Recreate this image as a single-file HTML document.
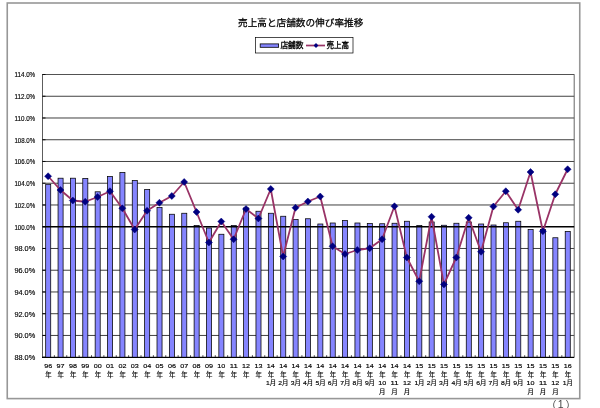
<!DOCTYPE html>
<html lang="ja"><head><meta charset="utf-8"><title>売上高と店舗数の伸び率推移</title>
<style>html,body{margin:0;padding:0;background:#fff}body{width:600px;height:408px;overflow:hidden;font-family:"Liberation Sans","Noto Sans CJK JP",sans-serif}svg{display:block}text{filter:grayscale(1);stroke:#000;stroke-width:.15px;font-family:"Liberation Sans","Noto Sans CJK JP",sans-serif;fill:#000}</style></head><body>
<svg width="600" height="408" viewBox="0 0 600 408" role="img" aria-label="売上高と店舗数の伸び率推移">
<rect width="600" height="408" fill="#fff"/>
<rect x="7.25" y="3" width="572.5" height="395.6" fill="#fff" stroke="#979797" stroke-width="1.6"/>
<text x="238" y="26.2" font-size="9.64" textLength="125.3" lengthAdjust="spacingAndGlyphs" style="stroke-width:.25px">売上高と店舗数の伸び率推移</text>
<line x1="42.00" x2="574.20" y1="74.50" y2="74.50" stroke="#000" stroke-width="0.75"/>
<line x1="42.00" x2="574.20" y1="96.25" y2="96.25" stroke="#000" stroke-width="0.75"/>
<line x1="42.00" x2="574.20" y1="117.99" y2="117.99" stroke="#000" stroke-width="0.75"/>
<line x1="42.00" x2="574.20" y1="139.74" y2="139.74" stroke="#000" stroke-width="0.75"/>
<line x1="42.00" x2="574.20" y1="161.48" y2="161.48" stroke="#000" stroke-width="0.75"/>
<line x1="42.00" x2="574.20" y1="183.23" y2="183.23" stroke="#000" stroke-width="0.75"/>
<line x1="42.00" x2="574.20" y1="204.98" y2="204.98" stroke="#000" stroke-width="0.75"/>
<line x1="42.00" x2="574.20" y1="248.47" y2="248.47" stroke="#000" stroke-width="0.75"/>
<line x1="42.00" x2="574.20" y1="270.22" y2="270.22" stroke="#000" stroke-width="0.75"/>
<line x1="42.00" x2="574.20" y1="291.96" y2="291.96" stroke="#000" stroke-width="0.75"/>
<line x1="42.00" x2="574.20" y1="313.71" y2="313.71" stroke="#000" stroke-width="0.75"/>
<line x1="42.00" x2="574.20" y1="335.45" y2="335.45" stroke="#000" stroke-width="0.75"/>
<line x1="42.00" x2="574.20" y1="357.20" y2="357.20" stroke="#000" stroke-width="0.75"/>
<path d="M42.00 74.50H574.20V357.20" fill="none" stroke="#555" stroke-width="0.9"/>
<rect x="45.68" y="184.30" width="5.05" height="172.90" fill="#8585ff" stroke="#000" stroke-width="0.75"/>
<rect x="58.05" y="178.20" width="5.05" height="179.00" fill="#8585ff" stroke="#000" stroke-width="0.75"/>
<rect x="70.41" y="178.20" width="5.05" height="179.00" fill="#8585ff" stroke="#000" stroke-width="0.75"/>
<rect x="82.78" y="178.40" width="5.05" height="178.80" fill="#8585ff" stroke="#000" stroke-width="0.75"/>
<rect x="95.15" y="191.80" width="5.05" height="165.40" fill="#8585ff" stroke="#000" stroke-width="0.75"/>
<rect x="107.52" y="176.50" width="5.05" height="180.70" fill="#8585ff" stroke="#000" stroke-width="0.75"/>
<rect x="119.89" y="172.50" width="5.05" height="184.70" fill="#8585ff" stroke="#000" stroke-width="0.75"/>
<rect x="132.26" y="180.50" width="5.05" height="176.70" fill="#8585ff" stroke="#000" stroke-width="0.75"/>
<rect x="144.63" y="189.50" width="5.05" height="167.70" fill="#8585ff" stroke="#000" stroke-width="0.75"/>
<rect x="157.00" y="207.50" width="5.05" height="149.70" fill="#8585ff" stroke="#000" stroke-width="0.75"/>
<rect x="169.37" y="214.25" width="5.05" height="142.95" fill="#8585ff" stroke="#000" stroke-width="0.75"/>
<rect x="181.74" y="213.25" width="5.05" height="143.95" fill="#8585ff" stroke="#000" stroke-width="0.75"/>
<rect x="194.11" y="225.50" width="5.05" height="131.70" fill="#8585ff" stroke="#000" stroke-width="0.75"/>
<rect x="206.48" y="228.00" width="5.05" height="129.20" fill="#8585ff" stroke="#000" stroke-width="0.75"/>
<rect x="218.85" y="234.25" width="5.05" height="122.95" fill="#8585ff" stroke="#000" stroke-width="0.75"/>
<rect x="231.22" y="225.50" width="5.05" height="131.70" fill="#8585ff" stroke="#000" stroke-width="0.75"/>
<rect x="243.59" y="208.00" width="5.05" height="149.20" fill="#8585ff" stroke="#000" stroke-width="0.75"/>
<rect x="255.96" y="211.25" width="5.05" height="145.95" fill="#8585ff" stroke="#000" stroke-width="0.75"/>
<rect x="268.34" y="213.25" width="5.05" height="143.95" fill="#8585ff" stroke="#000" stroke-width="0.75"/>
<rect x="280.71" y="216.25" width="5.05" height="140.95" fill="#8585ff" stroke="#000" stroke-width="0.75"/>
<rect x="293.08" y="219.50" width="5.05" height="137.70" fill="#8585ff" stroke="#000" stroke-width="0.75"/>
<rect x="305.45" y="218.75" width="5.05" height="138.45" fill="#8585ff" stroke="#000" stroke-width="0.75"/>
<rect x="317.82" y="224.00" width="5.05" height="133.20" fill="#8585ff" stroke="#000" stroke-width="0.75"/>
<rect x="330.19" y="223.00" width="5.05" height="134.20" fill="#8585ff" stroke="#000" stroke-width="0.75"/>
<rect x="342.56" y="220.50" width="5.05" height="136.70" fill="#8585ff" stroke="#000" stroke-width="0.75"/>
<rect x="354.93" y="223.00" width="5.05" height="134.20" fill="#8585ff" stroke="#000" stroke-width="0.75"/>
<rect x="367.30" y="223.50" width="5.05" height="133.70" fill="#8585ff" stroke="#000" stroke-width="0.75"/>
<rect x="379.67" y="223.75" width="5.05" height="133.45" fill="#8585ff" stroke="#000" stroke-width="0.75"/>
<rect x="392.04" y="223.25" width="5.05" height="133.95" fill="#8585ff" stroke="#000" stroke-width="0.75"/>
<rect x="404.41" y="221.25" width="5.05" height="135.95" fill="#8585ff" stroke="#000" stroke-width="0.75"/>
<rect x="416.78" y="225.50" width="5.05" height="131.70" fill="#8585ff" stroke="#000" stroke-width="0.75"/>
<rect x="429.15" y="222.00" width="5.05" height="135.20" fill="#8585ff" stroke="#000" stroke-width="0.75"/>
<rect x="441.52" y="225.25" width="5.05" height="131.95" fill="#8585ff" stroke="#000" stroke-width="0.75"/>
<rect x="453.89" y="223.25" width="5.05" height="133.95" fill="#8585ff" stroke="#000" stroke-width="0.75"/>
<rect x="466.26" y="222.00" width="5.05" height="135.20" fill="#8585ff" stroke="#000" stroke-width="0.75"/>
<rect x="478.63" y="224.00" width="5.05" height="133.20" fill="#8585ff" stroke="#000" stroke-width="0.75"/>
<rect x="491.00" y="225.00" width="5.05" height="132.20" fill="#8585ff" stroke="#000" stroke-width="0.75"/>
<rect x="503.37" y="222.75" width="5.05" height="134.45" fill="#8585ff" stroke="#000" stroke-width="0.75"/>
<rect x="515.74" y="221.25" width="5.05" height="135.95" fill="#8585ff" stroke="#000" stroke-width="0.75"/>
<rect x="528.11" y="229.50" width="5.05" height="127.70" fill="#8585ff" stroke="#000" stroke-width="0.75"/>
<rect x="540.48" y="229.50" width="5.05" height="127.70" fill="#8585ff" stroke="#000" stroke-width="0.75"/>
<rect x="552.85" y="237.75" width="5.05" height="119.45" fill="#8585ff" stroke="#000" stroke-width="0.75"/>
<rect x="565.22" y="231.50" width="5.05" height="125.70" fill="#8585ff" stroke="#000" stroke-width="0.75"/>
<line x1="42.00" x2="574.20" y1="226.72" y2="226.72" stroke="#000" stroke-width="1.4"/>
<line x1="42.5" x2="42.5" y1="74.50" y2="358.00" stroke="#333" stroke-width="0.8"/>
<line x1="42.00" x2="574.20" y1="357.5" y2="357.5" stroke="#000" stroke-width="1"/>
<path d="M42.5 74.50h3M42.5 96.25h3M42.5 117.99h3M42.5 139.74h3M42.5 161.48h3M42.5 183.23h3M42.5 204.98h3M42.5 226.72h3M42.5 248.47h3M42.5 270.22h3M42.5 291.96h3M42.5 313.71h3M42.5 335.45h3M42.5 357.20h3" stroke="#000" stroke-width="0.9" fill="none"/>
<path d="M54.38 357.20v-2M66.75 357.20v-2M79.13 357.20v-2M91.51 357.20v-2M103.88 357.20v-2M116.26 357.20v-2M128.64 357.20v-2M141.01 357.20v-2M153.39 357.20v-2M165.77 357.20v-2M178.14 357.20v-2M190.52 357.20v-2M202.90 357.20v-2M215.27 357.20v-2M227.65 357.20v-2M240.03 357.20v-2M252.40 357.20v-2M264.78 357.20v-2M277.16 357.20v-2M289.53 357.20v-2M301.91 357.20v-2M314.29 357.20v-2M326.67 357.20v-2M339.04 357.20v-2M351.42 357.20v-2M363.80 357.20v-2M376.17 357.20v-2M388.55 357.20v-2M400.93 357.20v-2M413.30 357.20v-2M425.68 357.20v-2M438.06 357.20v-2M450.43 357.20v-2M462.81 357.20v-2M475.19 357.20v-2M487.56 357.20v-2M499.94 357.20v-2M512.32 357.20v-2M524.69 357.20v-2M537.07 357.20v-2M549.45 357.20v-2M561.82 357.20v-2" stroke="#000" stroke-width="0.7" fill="none"/>
<polyline points="48.10,176.25 60.47,190.00 72.84,200.50 85.21,201.75 97.58,197.00 109.95,191.25 122.32,208.25 134.69,229.50 147.06,210.75 159.43,202.75 171.80,196.00 184.17,182.00 196.54,212.00 208.91,242.50 221.28,221.50 233.65,239.25 246.02,209.00 258.39,218.50 270.76,189.00 283.13,256.50 295.50,207.75 307.87,201.50 320.24,196.50 332.61,246.25 344.98,254.00 357.35,250.00 369.72,248.25 382.09,239.25 394.46,206.25 406.83,257.50 419.20,281.25 431.57,216.75 443.94,284.40 456.31,257.50 468.68,217.75 481.05,251.75 493.42,206.50 505.79,191.25 518.16,209.75 530.53,172.00 542.90,231.25 555.27,194.25 567.64,169.25" fill="none" stroke="#993366" stroke-width="1.8" stroke-linejoin="round"/>
<path d="M48.10 172.75l3.5 3.5l-3.5 3.5l-3.5 -3.5zM60.47 186.50l3.5 3.5l-3.5 3.5l-3.5 -3.5zM72.84 197.00l3.5 3.5l-3.5 3.5l-3.5 -3.5zM85.21 198.25l3.5 3.5l-3.5 3.5l-3.5 -3.5zM97.58 193.50l3.5 3.5l-3.5 3.5l-3.5 -3.5zM109.95 187.75l3.5 3.5l-3.5 3.5l-3.5 -3.5zM122.32 204.75l3.5 3.5l-3.5 3.5l-3.5 -3.5zM134.69 226.00l3.5 3.5l-3.5 3.5l-3.5 -3.5zM147.06 207.25l3.5 3.5l-3.5 3.5l-3.5 -3.5zM159.43 199.25l3.5 3.5l-3.5 3.5l-3.5 -3.5zM171.80 192.50l3.5 3.5l-3.5 3.5l-3.5 -3.5zM184.17 178.50l3.5 3.5l-3.5 3.5l-3.5 -3.5zM196.54 208.50l3.5 3.5l-3.5 3.5l-3.5 -3.5zM208.91 239.00l3.5 3.5l-3.5 3.5l-3.5 -3.5zM221.28 218.00l3.5 3.5l-3.5 3.5l-3.5 -3.5zM233.65 235.75l3.5 3.5l-3.5 3.5l-3.5 -3.5zM246.02 205.50l3.5 3.5l-3.5 3.5l-3.5 -3.5zM258.39 215.00l3.5 3.5l-3.5 3.5l-3.5 -3.5zM270.76 185.50l3.5 3.5l-3.5 3.5l-3.5 -3.5zM283.13 253.00l3.5 3.5l-3.5 3.5l-3.5 -3.5zM295.50 204.25l3.5 3.5l-3.5 3.5l-3.5 -3.5zM307.87 198.00l3.5 3.5l-3.5 3.5l-3.5 -3.5zM320.24 193.00l3.5 3.5l-3.5 3.5l-3.5 -3.5zM332.61 242.75l3.5 3.5l-3.5 3.5l-3.5 -3.5zM344.98 250.50l3.5 3.5l-3.5 3.5l-3.5 -3.5zM357.35 246.50l3.5 3.5l-3.5 3.5l-3.5 -3.5zM369.72 244.75l3.5 3.5l-3.5 3.5l-3.5 -3.5zM382.09 235.75l3.5 3.5l-3.5 3.5l-3.5 -3.5zM394.46 202.75l3.5 3.5l-3.5 3.5l-3.5 -3.5zM406.83 254.00l3.5 3.5l-3.5 3.5l-3.5 -3.5zM419.20 277.75l3.5 3.5l-3.5 3.5l-3.5 -3.5zM431.57 213.25l3.5 3.5l-3.5 3.5l-3.5 -3.5zM443.94 280.90l3.5 3.5l-3.5 3.5l-3.5 -3.5zM456.31 254.00l3.5 3.5l-3.5 3.5l-3.5 -3.5zM468.68 214.25l3.5 3.5l-3.5 3.5l-3.5 -3.5zM481.05 248.25l3.5 3.5l-3.5 3.5l-3.5 -3.5zM493.42 203.00l3.5 3.5l-3.5 3.5l-3.5 -3.5zM505.79 187.75l3.5 3.5l-3.5 3.5l-3.5 -3.5zM518.16 206.25l3.5 3.5l-3.5 3.5l-3.5 -3.5zM530.53 168.50l3.5 3.5l-3.5 3.5l-3.5 -3.5zM542.90 227.75l3.5 3.5l-3.5 3.5l-3.5 -3.5zM555.27 190.75l3.5 3.5l-3.5 3.5l-3.5 -3.5zM567.64 165.75l3.5 3.5l-3.5 3.5l-3.5 -3.5z" fill="#000080" stroke="#000080" stroke-width="0.5" stroke-linejoin="round"/>
<text x="35.2" y="77.30" font-size="6.9" text-anchor="end" textLength="20.8" lengthAdjust="spacingAndGlyphs">114.0%</text>
<text x="35.2" y="99.05" font-size="6.9" text-anchor="end" textLength="20.8" lengthAdjust="spacingAndGlyphs">112.0%</text>
<text x="35.2" y="120.79" font-size="6.9" text-anchor="end" textLength="20.8" lengthAdjust="spacingAndGlyphs">110.0%</text>
<text x="35.2" y="142.54" font-size="6.9" text-anchor="end" textLength="20.8" lengthAdjust="spacingAndGlyphs">108.0%</text>
<text x="35.2" y="164.28" font-size="6.9" text-anchor="end" textLength="20.8" lengthAdjust="spacingAndGlyphs">106.0%</text>
<text x="35.2" y="186.03" font-size="6.9" text-anchor="end" textLength="20.8" lengthAdjust="spacingAndGlyphs">104.0%</text>
<text x="35.2" y="207.78" font-size="6.9" text-anchor="end" textLength="20.8" lengthAdjust="spacingAndGlyphs">102.0%</text>
<text x="35.2" y="229.52" font-size="6.9" text-anchor="end" textLength="20.8" lengthAdjust="spacingAndGlyphs">100.0%</text>
<text x="35.2" y="251.27" font-size="6.9" text-anchor="end" textLength="20.8" lengthAdjust="spacingAndGlyphs">98.0%</text>
<text x="35.2" y="273.02" font-size="6.9" text-anchor="end" textLength="20.8" lengthAdjust="spacingAndGlyphs">96.0%</text>
<text x="35.2" y="294.76" font-size="6.9" text-anchor="end" textLength="20.8" lengthAdjust="spacingAndGlyphs">94.0%</text>
<text x="35.2" y="316.51" font-size="6.9" text-anchor="end" textLength="20.8" lengthAdjust="spacingAndGlyphs">92.0%</text>
<text x="35.2" y="338.25" font-size="6.9" text-anchor="end" textLength="20.8" lengthAdjust="spacingAndGlyphs">90.0%</text>
<text x="35.2" y="360.00" font-size="6.9" text-anchor="end" textLength="20.8" lengthAdjust="spacingAndGlyphs">88.0%</text>
<text x="48.20" y="368" font-size="6" text-anchor="middle" textLength="8" lengthAdjust="spacingAndGlyphs">96</text>
<text x="48.40" y="376.6" font-size="6.4" text-anchor="middle">年</text>
<text x="60.57" y="368" font-size="6" text-anchor="middle" textLength="8" lengthAdjust="spacingAndGlyphs">97</text>
<text x="60.77" y="376.6" font-size="6.4" text-anchor="middle">年</text>
<text x="72.94" y="368" font-size="6" text-anchor="middle" textLength="8" lengthAdjust="spacingAndGlyphs">98</text>
<text x="73.14" y="376.6" font-size="6.4" text-anchor="middle">年</text>
<text x="85.31" y="368" font-size="6" text-anchor="middle" textLength="8" lengthAdjust="spacingAndGlyphs">99</text>
<text x="85.51" y="376.6" font-size="6.4" text-anchor="middle">年</text>
<text x="97.68" y="368" font-size="6" text-anchor="middle" textLength="8" lengthAdjust="spacingAndGlyphs">00</text>
<text x="97.88" y="376.6" font-size="6.4" text-anchor="middle">年</text>
<text x="110.05" y="368" font-size="6" text-anchor="middle" textLength="8" lengthAdjust="spacingAndGlyphs">01</text>
<text x="110.25" y="376.6" font-size="6.4" text-anchor="middle">年</text>
<text x="122.42" y="368" font-size="6" text-anchor="middle" textLength="8" lengthAdjust="spacingAndGlyphs">02</text>
<text x="122.62" y="376.6" font-size="6.4" text-anchor="middle">年</text>
<text x="134.79" y="368" font-size="6" text-anchor="middle" textLength="8" lengthAdjust="spacingAndGlyphs">03</text>
<text x="134.99" y="376.6" font-size="6.4" text-anchor="middle">年</text>
<text x="147.16" y="368" font-size="6" text-anchor="middle" textLength="8" lengthAdjust="spacingAndGlyphs">04</text>
<text x="147.36" y="376.6" font-size="6.4" text-anchor="middle">年</text>
<text x="159.53" y="368" font-size="6" text-anchor="middle" textLength="8" lengthAdjust="spacingAndGlyphs">05</text>
<text x="159.73" y="376.6" font-size="6.4" text-anchor="middle">年</text>
<text x="171.90" y="368" font-size="6" text-anchor="middle" textLength="8" lengthAdjust="spacingAndGlyphs">06</text>
<text x="172.10" y="376.6" font-size="6.4" text-anchor="middle">年</text>
<text x="184.27" y="368" font-size="6" text-anchor="middle" textLength="8" lengthAdjust="spacingAndGlyphs">07</text>
<text x="184.47" y="376.6" font-size="6.4" text-anchor="middle">年</text>
<text x="196.64" y="368" font-size="6" text-anchor="middle" textLength="8" lengthAdjust="spacingAndGlyphs">08</text>
<text x="196.84" y="376.6" font-size="6.4" text-anchor="middle">年</text>
<text x="209.01" y="368" font-size="6" text-anchor="middle" textLength="8" lengthAdjust="spacingAndGlyphs">09</text>
<text x="209.21" y="376.6" font-size="6.4" text-anchor="middle">年</text>
<text x="221.38" y="368" font-size="6" text-anchor="middle" textLength="8" lengthAdjust="spacingAndGlyphs">10</text>
<text x="221.58" y="376.6" font-size="6.4" text-anchor="middle">年</text>
<text x="233.75" y="368" font-size="6" text-anchor="middle" textLength="8" lengthAdjust="spacingAndGlyphs">11</text>
<text x="233.95" y="376.6" font-size="6.4" text-anchor="middle">年</text>
<text x="246.12" y="368" font-size="6" text-anchor="middle" textLength="8" lengthAdjust="spacingAndGlyphs">12</text>
<text x="246.32" y="376.6" font-size="6.4" text-anchor="middle">年</text>
<text x="258.49" y="368" font-size="6" text-anchor="middle" textLength="8" lengthAdjust="spacingAndGlyphs">13</text>
<text x="258.69" y="376.6" font-size="6.4" text-anchor="middle">年</text>
<text x="270.86" y="368" font-size="6" text-anchor="middle" textLength="8" lengthAdjust="spacingAndGlyphs">14</text>
<text x="271.06" y="376.6" font-size="6.4" text-anchor="middle">年</text>
<text x="267.86" y="384.9" font-size="6" text-anchor="middle" textLength="3.8" lengthAdjust="spacingAndGlyphs">1</text>
<text x="269.66" y="385.4" font-size="6.4">月</text>
<text x="283.23" y="368" font-size="6" text-anchor="middle" textLength="8" lengthAdjust="spacingAndGlyphs">14</text>
<text x="283.43" y="376.6" font-size="6.4" text-anchor="middle">年</text>
<text x="280.23" y="384.9" font-size="6" text-anchor="middle" textLength="3.8" lengthAdjust="spacingAndGlyphs">2</text>
<text x="282.03" y="385.4" font-size="6.4">月</text>
<text x="295.60" y="368" font-size="6" text-anchor="middle" textLength="8" lengthAdjust="spacingAndGlyphs">14</text>
<text x="295.80" y="376.6" font-size="6.4" text-anchor="middle">年</text>
<text x="292.60" y="384.9" font-size="6" text-anchor="middle" textLength="3.8" lengthAdjust="spacingAndGlyphs">3</text>
<text x="294.40" y="385.4" font-size="6.4">月</text>
<text x="307.97" y="368" font-size="6" text-anchor="middle" textLength="8" lengthAdjust="spacingAndGlyphs">14</text>
<text x="308.17" y="376.6" font-size="6.4" text-anchor="middle">年</text>
<text x="304.97" y="384.9" font-size="6" text-anchor="middle" textLength="3.8" lengthAdjust="spacingAndGlyphs">4</text>
<text x="306.77" y="385.4" font-size="6.4">月</text>
<text x="320.34" y="368" font-size="6" text-anchor="middle" textLength="8" lengthAdjust="spacingAndGlyphs">14</text>
<text x="320.54" y="376.6" font-size="6.4" text-anchor="middle">年</text>
<text x="317.34" y="384.9" font-size="6" text-anchor="middle" textLength="3.8" lengthAdjust="spacingAndGlyphs">5</text>
<text x="319.14" y="385.4" font-size="6.4">月</text>
<text x="332.71" y="368" font-size="6" text-anchor="middle" textLength="8" lengthAdjust="spacingAndGlyphs">14</text>
<text x="332.91" y="376.6" font-size="6.4" text-anchor="middle">年</text>
<text x="329.71" y="384.9" font-size="6" text-anchor="middle" textLength="3.8" lengthAdjust="spacingAndGlyphs">6</text>
<text x="331.51" y="385.4" font-size="6.4">月</text>
<text x="345.08" y="368" font-size="6" text-anchor="middle" textLength="8" lengthAdjust="spacingAndGlyphs">14</text>
<text x="345.28" y="376.6" font-size="6.4" text-anchor="middle">年</text>
<text x="342.08" y="384.9" font-size="6" text-anchor="middle" textLength="3.8" lengthAdjust="spacingAndGlyphs">7</text>
<text x="343.88" y="385.4" font-size="6.4">月</text>
<text x="357.45" y="368" font-size="6" text-anchor="middle" textLength="8" lengthAdjust="spacingAndGlyphs">14</text>
<text x="357.65" y="376.6" font-size="6.4" text-anchor="middle">年</text>
<text x="354.45" y="384.9" font-size="6" text-anchor="middle" textLength="3.8" lengthAdjust="spacingAndGlyphs">8</text>
<text x="356.25" y="385.4" font-size="6.4">月</text>
<text x="369.82" y="368" font-size="6" text-anchor="middle" textLength="8" lengthAdjust="spacingAndGlyphs">14</text>
<text x="370.02" y="376.6" font-size="6.4" text-anchor="middle">年</text>
<text x="366.82" y="384.9" font-size="6" text-anchor="middle" textLength="3.8" lengthAdjust="spacingAndGlyphs">9</text>
<text x="368.62" y="385.4" font-size="6.4">月</text>
<text x="382.19" y="368" font-size="6" text-anchor="middle" textLength="8" lengthAdjust="spacingAndGlyphs">14</text>
<text x="382.39" y="376.6" font-size="6.4" text-anchor="middle">年</text>
<text x="382.19" y="384.9" font-size="6" text-anchor="middle" textLength="8" lengthAdjust="spacingAndGlyphs">10</text>
<text x="378.99" y="394.0" font-size="6.4">月</text>
<text x="394.56" y="368" font-size="6" text-anchor="middle" textLength="8" lengthAdjust="spacingAndGlyphs">14</text>
<text x="394.76" y="376.6" font-size="6.4" text-anchor="middle">年</text>
<text x="394.56" y="384.9" font-size="6" text-anchor="middle" textLength="8" lengthAdjust="spacingAndGlyphs">11</text>
<text x="391.36" y="394.0" font-size="6.4">月</text>
<text x="406.93" y="368" font-size="6" text-anchor="middle" textLength="8" lengthAdjust="spacingAndGlyphs">14</text>
<text x="407.13" y="376.6" font-size="6.4" text-anchor="middle">年</text>
<text x="406.93" y="384.9" font-size="6" text-anchor="middle" textLength="8" lengthAdjust="spacingAndGlyphs">12</text>
<text x="403.73" y="394.0" font-size="6.4">月</text>
<text x="419.30" y="368" font-size="6" text-anchor="middle" textLength="8" lengthAdjust="spacingAndGlyphs">15</text>
<text x="419.50" y="376.6" font-size="6.4" text-anchor="middle">年</text>
<text x="416.30" y="384.9" font-size="6" text-anchor="middle" textLength="3.8" lengthAdjust="spacingAndGlyphs">1</text>
<text x="418.10" y="385.4" font-size="6.4">月</text>
<text x="431.67" y="368" font-size="6" text-anchor="middle" textLength="8" lengthAdjust="spacingAndGlyphs">15</text>
<text x="431.87" y="376.6" font-size="6.4" text-anchor="middle">年</text>
<text x="428.67" y="384.9" font-size="6" text-anchor="middle" textLength="3.8" lengthAdjust="spacingAndGlyphs">2</text>
<text x="430.47" y="385.4" font-size="6.4">月</text>
<text x="444.04" y="368" font-size="6" text-anchor="middle" textLength="8" lengthAdjust="spacingAndGlyphs">15</text>
<text x="444.24" y="376.6" font-size="6.4" text-anchor="middle">年</text>
<text x="441.04" y="384.9" font-size="6" text-anchor="middle" textLength="3.8" lengthAdjust="spacingAndGlyphs">3</text>
<text x="442.84" y="385.4" font-size="6.4">月</text>
<text x="456.41" y="368" font-size="6" text-anchor="middle" textLength="8" lengthAdjust="spacingAndGlyphs">15</text>
<text x="456.61" y="376.6" font-size="6.4" text-anchor="middle">年</text>
<text x="453.41" y="384.9" font-size="6" text-anchor="middle" textLength="3.8" lengthAdjust="spacingAndGlyphs">4</text>
<text x="455.21" y="385.4" font-size="6.4">月</text>
<text x="468.78" y="368" font-size="6" text-anchor="middle" textLength="8" lengthAdjust="spacingAndGlyphs">15</text>
<text x="468.98" y="376.6" font-size="6.4" text-anchor="middle">年</text>
<text x="465.78" y="384.9" font-size="6" text-anchor="middle" textLength="3.8" lengthAdjust="spacingAndGlyphs">5</text>
<text x="467.58" y="385.4" font-size="6.4">月</text>
<text x="481.15" y="368" font-size="6" text-anchor="middle" textLength="8" lengthAdjust="spacingAndGlyphs">15</text>
<text x="481.35" y="376.6" font-size="6.4" text-anchor="middle">年</text>
<text x="478.15" y="384.9" font-size="6" text-anchor="middle" textLength="3.8" lengthAdjust="spacingAndGlyphs">6</text>
<text x="479.95" y="385.4" font-size="6.4">月</text>
<text x="493.52" y="368" font-size="6" text-anchor="middle" textLength="8" lengthAdjust="spacingAndGlyphs">15</text>
<text x="493.72" y="376.6" font-size="6.4" text-anchor="middle">年</text>
<text x="490.52" y="384.9" font-size="6" text-anchor="middle" textLength="3.8" lengthAdjust="spacingAndGlyphs">7</text>
<text x="492.32" y="385.4" font-size="6.4">月</text>
<text x="505.89" y="368" font-size="6" text-anchor="middle" textLength="8" lengthAdjust="spacingAndGlyphs">15</text>
<text x="506.09" y="376.6" font-size="6.4" text-anchor="middle">年</text>
<text x="502.89" y="384.9" font-size="6" text-anchor="middle" textLength="3.8" lengthAdjust="spacingAndGlyphs">8</text>
<text x="504.69" y="385.4" font-size="6.4">月</text>
<text x="518.26" y="368" font-size="6" text-anchor="middle" textLength="8" lengthAdjust="spacingAndGlyphs">15</text>
<text x="518.46" y="376.6" font-size="6.4" text-anchor="middle">年</text>
<text x="515.26" y="384.9" font-size="6" text-anchor="middle" textLength="3.8" lengthAdjust="spacingAndGlyphs">9</text>
<text x="517.06" y="385.4" font-size="6.4">月</text>
<text x="530.63" y="368" font-size="6" text-anchor="middle" textLength="8" lengthAdjust="spacingAndGlyphs">15</text>
<text x="530.83" y="376.6" font-size="6.4" text-anchor="middle">年</text>
<text x="530.63" y="384.9" font-size="6" text-anchor="middle" textLength="8" lengthAdjust="spacingAndGlyphs">10</text>
<text x="527.43" y="394.0" font-size="6.4">月</text>
<text x="543.00" y="368" font-size="6" text-anchor="middle" textLength="8" lengthAdjust="spacingAndGlyphs">15</text>
<text x="543.20" y="376.6" font-size="6.4" text-anchor="middle">年</text>
<text x="543.00" y="384.9" font-size="6" text-anchor="middle" textLength="8" lengthAdjust="spacingAndGlyphs">11</text>
<text x="539.80" y="394.0" font-size="6.4">月</text>
<text x="555.37" y="368" font-size="6" text-anchor="middle" textLength="8" lengthAdjust="spacingAndGlyphs">15</text>
<text x="555.57" y="376.6" font-size="6.4" text-anchor="middle">年</text>
<text x="555.37" y="384.9" font-size="6" text-anchor="middle" textLength="8" lengthAdjust="spacingAndGlyphs">12</text>
<text x="552.17" y="394.0" font-size="6.4">月</text>
<text x="567.74" y="368" font-size="6" text-anchor="middle" textLength="8" lengthAdjust="spacingAndGlyphs">16</text>
<text x="567.94" y="376.6" font-size="6.4" text-anchor="middle">年</text>
<text x="564.74" y="384.9" font-size="6" text-anchor="middle" textLength="3.8" lengthAdjust="spacingAndGlyphs">1</text>
<text x="566.54" y="385.4" font-size="6.4">月</text>
<rect x="255.5" y="37.5" width="97.5" height="15.5" fill="#fff" stroke="#000" stroke-width="0.7"/>
<rect x="260.2" y="43.9" width="18.4" height="3.4" fill="#8585ff" stroke="#000" stroke-width="0.8"/>
<text x="280.4" y="48.4" font-size="7.7" textLength="23.1" lengthAdjust="spacingAndGlyphs" style="stroke-width:.3px">店舗数</text>
<line x1="306" x2="325" y1="45.5" y2="45.5" stroke="#993366" stroke-width="1.7"/>
<path d="M316 43.1l2.4 2.4l-2.4 2.4l-2.4 -2.4z" fill="#000080"/>
<text x="326.6" y="48.2" font-size="7.5" textLength="22.5" lengthAdjust="spacingAndGlyphs" style="stroke-width:.3px">売上高</text>
<text x="545.9" y="408.6" font-size="10.5" style="fill:#444;stroke:none">（</text>
<text x="560.6" y="408.4" font-size="10.5" text-anchor="middle" style="fill:#444;stroke:none">1</text>
<text x="565.6" y="408.6" font-size="10.5" style="fill:#444;stroke:none">）</text>
</svg></body></html>
